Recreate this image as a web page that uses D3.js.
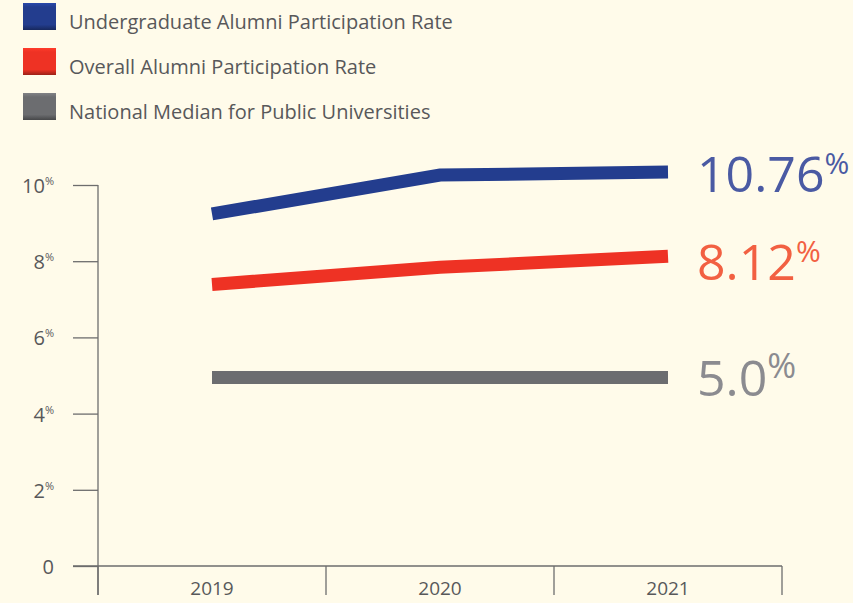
<!DOCTYPE html>
<html><head><meta charset="utf-8">
<script src="https://cdn.jsdelivr.net/npm/d3@7"></script>
<style>body{margin:0;background:#fffbea;}svg{display:block;}</style>
</head><body>
<svg id="c" width="853" height="603"></svg>
<script>
const years = ["2019","2020","2021"];
const undergrad = [9.24, 10.26, 10.34];
const overall = [7.39, 7.84, 8.13];
const national = [4.95, 4.95, 4.95];
const seriesNames = ["Undergraduate Alumni Participation Rate","Overall Alumni Participation Rate","National Median for Public Universities"];
const endLabels = ["10.76", "8.12", "5.0"];
const yTicks = [0, 2, 4, 6, 8, 10];

const colors = ["#233d8e", "#ee3224", "#6c6d70"];
const labelColors = ["#4a5aa3", "#f26042", "#8b8b90"];

const svg = d3.select("#c");
svg.append("rect").attr("width",853).attr("height",603).attr("fill","#fffbea");

const x = d3.scaleBand().domain(years).range([98, 782]);
const y = d3.scaleLinear().domain([0, 10]).range([566, 185]);

const defs = svg.append("defs");
colors.forEach((c, i) => {
  const g = defs.append("linearGradient").attr("id","g"+i).attr("x1","0").attr("y1","0").attr("x2","0").attr("y2","1");
  g.append("stop").attr("offset","0").attr("stop-color", d3.color(c).brighter(0.5));
  g.append("stop").attr("offset","0.15").attr("stop-color", c);
  g.append("stop").attr("offset","0.8").attr("stop-color", c);
  g.append("stop").attr("offset","1").attr("stop-color", d3.color(c).darker(1.2));
});

// legend
const legY = [3, 48, 93];
const leg = svg.append("g");
seriesNames.forEach((n, i) => {
  leg.append("rect").attr("x", 23).attr("y", legY[i]).attr("width", 33).attr("height", 27).attr("fill", "url(#g"+i+")");
  leg.append("text").attr("x", 69).attr("y", legY[i] + 26).attr("fill", "#58585a")
    .attr("font-family", "'Open Sans', sans-serif").attr("font-size", 20).text(n);
});

const axisColor = "#6d6d6d";
// y axis
const yAxis = svg.append("g").attr("transform", "translate(98,0)")
  .call(d3.axisLeft(y).tickValues(yTicks).tickSize(25).tickFormat(""));
yAxis.select(".domain").remove();
yAxis.selectAll(".tick line").attr("stroke", axisColor).attr("stroke-width", 1.3);
svg.append("line").attr("x1", 98).attr("x2", 98).attr("y1", y(10)).attr("y2", 595).attr("stroke", axisColor).attr("stroke-width", 1.3);

yTicks.forEach(t => {
  const tx = svg.append("text").attr("x", 54).attr("y", y(t) + 8)
    .attr("text-anchor", "end").attr("fill", "#58585a").attr("font-family", "'Open Sans', sans-serif").attr("font-size", 20);
  tx.append("tspan").text(t === 0 ? "0" : t);
  if (t !== 0) tx.append("tspan").attr("font-size", 11).attr("dy", -8).text("%");
});

// x axis
const xAxis = svg.append("g").attr("transform", "translate(0,566)")
  .call(d3.axisBottom(x).tickSize(0).tickPadding(0).tickFormat(""));
xAxis.select(".domain").remove();
svg.append("line").attr("x1", 73).attr("x2", 782).attr("y1", 566).attr("y2", 566).attr("stroke", axisColor).attr("stroke-width", 1.3);
const bounds = years.map(d => x(d)).concat([x(years[years.length-1]) + x.bandwidth()]);
bounds.forEach(b => {
  svg.append("line").attr("x1", b).attr("x2", b).attr("y1", 566).attr("y2", 595).attr("stroke", axisColor).attr("stroke-width", 1.3);
});
years.forEach(d => {
  svg.append("text").attr("x", x(d) + x.bandwidth()/2).attr("y", 595).attr("text-anchor", "middle")
    .attr("fill", "#58585a").attr("font-family", "'Open Sans', sans-serif").attr("font-size", 19).text(d);
});

// lines
const line = d3.line().x((d, i) => x(years[i]) + x.bandwidth()/2).y(d => y(d));
[undergrad, overall, national].forEach((s, i) => {
  svg.append("path").attr("d", line(s)).attr("fill", "none").attr("stroke", colors[i])
    .attr("stroke-width", 13).attr("stroke-linejoin", "miter").attr("stroke-linecap", "butt");
});

// end labels
const endBase = [192, 280, 396];
const pctSize = [30, 30, 35];
endLabels.forEach((l, i) => {
  const t = svg.append("text").attr("x", 697).attr("y", endBase[i]).attr("fill", labelColors[i])
    .attr("font-family", "'Open Sans', sans-serif").attr("font-size", 50);
  t.append("tspan").text(l);
  t.append("tspan").attr("font-size", pctSize[i]).attr("dy", -18).text("%");
});
</script>
</body></html>
